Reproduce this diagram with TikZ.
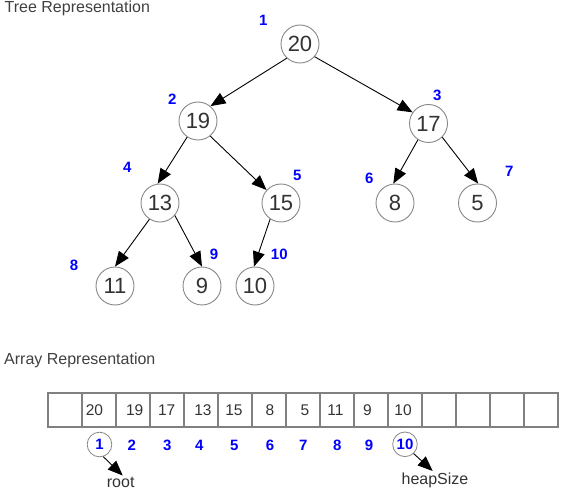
\documentclass[tikz,border=0pt]{standalone}
\usepackage{fontspec}
\setmainfont{Liberation Sans}
\usetikzlibrary{arrows.meta}
\definecolor{txt}{HTML}{333333}
\definecolor{ttl}{HTML}{404040}
\definecolor{idxblue}{HTML}{0000FF}
\definecolor{ring}{HTML}{888888}
\definecolor{cellgray}{HTML}{808080}
\begin{document}
\begin{tikzpicture}[x=1pt,y=-1pt,
  tnode/.style={circle,draw=ring,line width=0.9pt,fill=white,minimum size=38pt,inner sep=0pt,text=txt,font=\fontsize{22}{26}\selectfont},
  idx/.style={text=idxblue,font=\fontsize{15}{18}\selectfont\bfseries,inner sep=0pt},
  idxc/.style={idx,circle,draw=ring,line width=0.8pt,minimum size=24.6pt},
  edge/.style={line width=0.9pt,-{Triangle[length=15pt,width=12pt]}},
  cellbox/.style={draw=cellgray,line width=1.3pt,minimum width=34pt,minimum height=34pt,inner sep=0pt},
  celltxt/.style={text=txt,font=\fontsize{15.5}{18}\selectfont,inner sep=0pt},
  lbl/.style={text=txt,font=\fontsize{16}{19}\selectfont,inner sep=0pt},
  title/.style={text=ttl,font=\fontsize{16}{19}\selectfont,inner sep=0pt,anchor=west}
]
\useasboundingbox (0,0) rectangle (563,492);

% titles
\node[title] (ttree) at (4.5,8.5) {Tree Representation};
\node[title] (tarr) at (4,360) {Array Representation};

% tree nodes
\node[tnode] (n20) at (300,44) {20};
\node[tnode] (n19) at (198,121) {19};
\node[tnode] (n17) at (428.5,123.5) {17};
\node[tnode] (n13) at (160,203) {13};
\node[tnode] (n15) at (281,203) {15};
\node[tnode] (n8) at (395,203) {8};
\node[tnode] (n5) at (477.5,203) {5};
\node[tnode] (n11) at (115,286) {11};
\node[tnode] (n9) at (202,286) {9};
\node[tnode] (n10) at (255,286) {10};

% tree index labels
\node[idx] (i1) at (263.3,20.3) {1};
\node[idx] (i2) at (172.3,99.5) {2};
\node[idx] (i3) at (437.3,95) {3};
\node[idx] (i4) at (127.3,167.3) {4};
\node[idx] (i5) at (297.3,175) {5};
\node[idx] (i6) at (369.3,178.5) {6};
\node[idx] (i7) at (509.3,171) {7};
\node[idx] (i8) at (74,265.5) {8};
\node[idx] (i9) at (214,254) {9};
\node[idx] (i10) at (279.3,254) {10};

% tree edges
\draw[edge] (n20.227) -- (n19.50);
\draw[edge] (n20.319) -- (n17.145);
\draw[edge] (n19.236) -- (n13.97);
\draw[edge] (n19.309) -- (n15.138);
\draw[edge] (n17.237) -- (n8.95);
\draw[edge] (n17.315) -- (n5.88);
\draw[edge] (n13.237) -- (n11.90);
\draw[edge] (n13.320) -- (n9.90);
\draw[edge] (n15.236) -- (n10.93);

% array cells
\foreach \i in {0,...,14}{
  \node[cellbox] (c\i) at ({65+34*\i},410) {};
}
\node[celltxt] (v1) at (94.5,410.5) {20};
\node[celltxt] (v2) at (134.7,410.5) {19};
\node[celltxt] (v3) at (166.7,410.5) {17};
\node[celltxt] (v4) at (203,410.5) {13};
\node[celltxt] (v5) at (234,410.5) {15};
\node[celltxt] (v6) at (270,410.5) {8};
\node[celltxt] (v7) at (305,410.5) {5};
\node[celltxt] (v8) at (335.5,410.5) {11};
\node[celltxt] (v9) at (367.5,410.5) {9};
\node[celltxt] (v10) at (403,410.5) {10};

% array index labels
\node[idxc] (a1) at (99.5,444.5) {1};
\node[idx] (a2) at (131.7,445.5) {2};
\node[idx] (a3) at (167.3,445.5) {3};
\node[idx] (a4) at (199.3,445.5) {4};
\node[idx] (a5) at (234.3,445.5) {5};
\node[idx] (a6) at (270,445.5) {6};
\node[idx] (a7) at (303.3,445.5) {7};
\node[idx] (a8) at (337.3,445.5) {8};
\node[idx] (a9) at (369,445.5) {9};
\node[idxc] (a10) at (405,444.3) {10};

% pointers
\node[lbl] (root) at (120.7,482) {root};
\node[lbl] (heap) at (435,480) {heapSize};
\coordinate (roottip) at (122.7,475.5);
\coordinate (heaptip) at (432.7,471);
\draw[edge] (a1.287) -- (roottip);
\draw[edge] (a10.313) -- (heaptip);
\end{tikzpicture}
\end{document}
